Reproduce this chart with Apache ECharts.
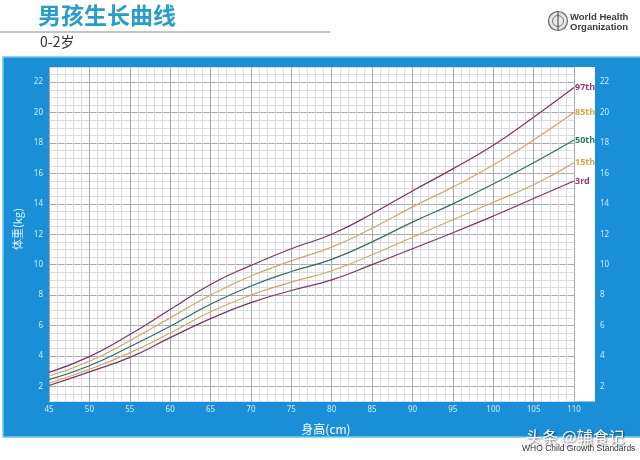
<!DOCTYPE html>
<html>
<head>
<meta charset="utf-8">
<script src="https://cdn.jsdelivr.net/npm/echarts@6/dist/echarts.min.js"></script>
<style>
html,body{margin:0;padding:0;background:#fff;}
#chart{width:640px;height:460px;}
</style>
</head>
<body>
<div id="chart"></div>
<script>
// ---- data ----
const lengths = [45, 50, 55, 60, 65, 70, 75, 80, 85, 90, 95, 100, 105, 110];
const p3  = [2.05, 2.95, 3.9, 5.2, 6.45, 7.5, 8.3, 9.0, 10.0, 11.05, 12.1, 13.2, 14.35, 15.5];
const p15 = [2.2, 3.12, 4.2, 5.5, 6.9, 8.0, 8.85, 9.6, 10.65, 11.8, 12.95, 14.1, 15.25, 16.7];
const p50 = [2.44, 3.35, 4.6, 5.95, 7.4, 8.6, 9.55, 10.35, 11.5, 12.8, 14.0, 15.3, 16.7, 18.2];
const p85 = [2.68, 3.65, 5.0, 6.5, 8.0, 9.25, 10.25, 11.15, 12.4, 13.8, 15.1, 16.55, 18.2, 20.0];
const p97 = [2.92, 3.95, 5.4, 7.05, 8.7, 9.95, 11.05, 12.0, 13.35, 14.85, 16.3, 17.85, 19.7, 21.65];
const seriesNames = ['3rd', '15th', '50th', '85th', '97th'];
const xTickLabels = [45, 50, 55, 60, 65, 70, 75, 80, 85, 90, 95, 100, 105, 110];
const yTickLabels = [2, 4, 6, 8, 10, 12, 14, 16, 18, 20, 22];
const titleText = '男孩生长曲线';
const subTitleText = '0-2岁';
const xName = '身高(cm)';
const yName = '体重(kg)';

// ---- styles ----
const lineColors = ['#7a3560', '#cfa46e', '#2f6e5e', '#cfa46e', '#7a3560'];
const labelColors = ['#a0386c', '#d4a24a', '#2e7a5c', '#d4a24a', '#a0386c'];
const sets = [p3, p15, p50, p85, p97];

const chart = echarts.init(document.getElementById('chart'), null, {renderer: 'canvas'});

const series = sets.map((arr, i) => ({
  name: seriesNames[i],
  type: 'line',
  smooth: 0.5,
  symbol: 'none',
  xAxisIndex: 0,
  yAxisIndex: 0,
  data: lengths.map((l, j) => [l, arr[j]]),
  lineStyle: {color: lineColors[i], width: 1.2},
  z: 5,
  endLabel: {
    show: true,
    formatter: seriesNames[i],
    color: labelColors[i],
    fontWeight: 'bold',
    fontSize: 9,
    fontFamily: 'Noto Sans',
    distance: 1
  }
}));

const labelColor = '#c9eefc';

chart.setOption({
  animation: false,
  backgroundColor: '#ffffff',
  grid: {left: 49, right: 66, top: 67, bottom: 58.5, containLabel: false},
  xAxis: {
    type: 'value', min: 45, max: 110, interval: 1,
    axisLine: {show: false}, axisTick: {show: false},
    axisLabel: {
      color: labelColor, fontSize: 8, margin: 4, fontFamily: 'Noto Sans',
      formatter: v => (xTickLabels.indexOf(v) >= 0 ? String(v) : '')
    },
    splitLine: {show: true, lineStyle: {width: 1, color: ['#a9a9a9', '#dedbe0', '#dedbe0', '#dedbe0', '#dedbe0']}}
  },
  yAxis: [{
    type: 'value', min: 1, max: 23, interval: 0.5,
    axisLine: {show: false}, axisTick: {show: false},
    axisLabel: {
      color: labelColor, fontSize: 8, margin: 6, fontFamily: 'Noto Sans',
      formatter: v => (yTickLabels.indexOf(v) >= 0 ? String(v) : '')
    },
    splitLine: {show: true, lineStyle: {width: 1, color: ['#dedbe0', '#dedbe0', '#a9a9a9', '#dedbe0']}}
  }, {
    type: 'value', min: 1, max: 23, interval: 0.5, position: 'right',
    axisLine: {show: false}, axisTick: {show: false}, splitLine: {show: false},
    axisLabel: {
      color: labelColor, fontSize: 8, margin: 26, align: 'left', fontFamily: 'Noto Sans',
      formatter: v => (yTickLabels.indexOf(v) >= 0 ? String(v) : '')
    }
  }],
  series: series,
  graphic: [
    {type: 'rect', z: -20, silent: true, shape: {x: 3, y: 57, width: 640, height: 380},
      style: {fill: '#1a8fd8', stroke: '#6cc8f0', lineWidth: 1.5}},
    {type: 'rect', z: -10, silent: true, shape: {x: 49, y: 67, width: 546, height: 334.5},
      style: {fill: '#ffffff'}},
    {type: 'text', z: 10, left: 38, top: 4,
      style: {text: titleText, fill: '#2a9ccb', fontSize: 23, fontWeight: 'bold', fontFamily: 'Noto Sans CJK SC'}},
    {type: 'line', z: 10, shape: {x1: 0, y1: 32, x2: 330, y2: 32}, style: {stroke: '#8a8a8a', lineWidth: 1.2}},
    {type: 'text', z: 10, left: 40, top: 35,
      style: {text: subTitleText, fill: '#333333', fontSize: 14, fontFamily: 'Noto Sans CJK SC'}},
    {type: 'circle', z: 10, shape: {cx: 558, cy: 21, r: 9.5}, style: {fill: '#e8e8e8', stroke: '#666', lineWidth: 1.2}},
    {type: 'circle', z: 11, shape: {cx: 558, cy: 21, r: 5.5}, style: {fill: 'none', stroke: '#777', lineWidth: 1}},
    {type: 'line', z: 11, shape: {x1: 558, y1: 12, x2: 558, y2: 30}, style: {stroke: '#555', lineWidth: 1.2}},
    {type: 'text', z: 10, left: 570, top: 12,
      style: {text: 'World Health\nOrganization', fill: '#3a3a3a', fontSize: 9.5, fontWeight: 'bold', lineHeight: 10, fontFamily: 'Liberation Sans Narrow, Liberation Sans'}},
    {type: 'text', z: 10, x: 326, y: 429,
      style: {text: xName, fill: '#ffffff', fontSize: 12, align: 'center', verticalAlign: 'middle', fontFamily: 'Noto Sans CJK SC'}},
    {type: 'text', z: 10, x: 18, y: 229, rotation: Math.PI / 2,
      style: {text: yName, fill: '#d8f2fd', fontSize: 11, align: 'center', verticalAlign: 'middle', fontFamily: 'Noto Sans CJK SC'}},
    {type: 'text', z: 10, left: 526, top: 429,
      style: {text: '头条 @辅食记', fill: '#ffffff', fontSize: 16, fontFamily: 'Noto Sans CJK SC',
        textShadowColor: 'rgba(0,0,0,0.6)', textShadowBlur: 2, textShadowOffsetX: 1, textShadowOffsetY: 1}},
    {type: 'text', z: 11, left: 522, top: 444,
      style: {text: 'WHO Child Growth Standards', fill: '#333333', fontSize: 8.5, fontFamily: 'Liberation Sans'}}
  ]
});
</script>
</body>
</html>
